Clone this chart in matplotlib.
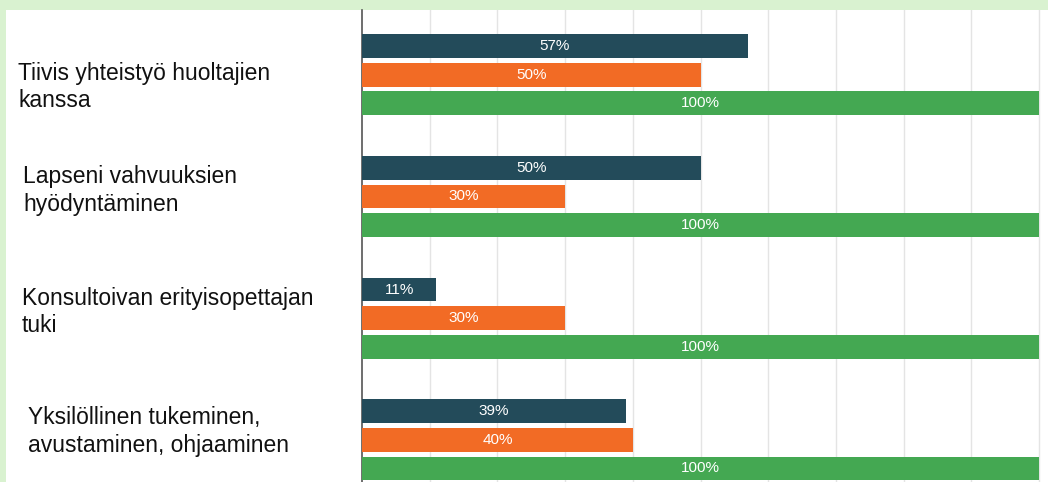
import matplotlib.pyplot as plt
import numpy as np
from matplotlib.patches import Rectangle

categories = [
    "Tiivis yhteistyö huoltajien\nkanssa",
    "Lapseni vahvuuksien\nhyödyntäminen",
    "Konsultoivan erityisopettajan\ntuki",
    "Yksilöllinen tukeminen,\navustaminen, ohjaaminen",
]
series_a = [57, 50, 11, 39]
series_b = [50, 30, 30, 40]
series_c = [100, 100, 100, 100]

colors = ["#234B5A", "#F26B25", "#44A852"]
label_dx = [18, 23, 22, 28]
label_dy = [0.10, -0.05, -0.05, -0.07]

W, H = 1048, 482
fig = plt.figure(figsize=(W / 100, H / 100), dpi=100, facecolor="#D9F2D0")
fig.patches.append(Rectangle((6 / W, 0), 1 - 6 / W, 1 - 10 / H, transform=fig.transFigure,
                             facecolor="white", edgecolor="none", zorder=-10))

ax = fig.add_axes([362 / W, 0, (1048 - 362) / W, 1 - 10 / H])
ax.patch.set_alpha(0)

y = np.arange(len(categories))
off = 0.235
h = 0.195
for vals, dy, c in zip([series_a, series_b, series_c], [-off, 0, off], colors):
    bars = ax.barh(y + dy, vals, height=h, color=c, zorder=3)
    for b, v in zip(bars, vals):
        ax.text(b.get_width() / 2, b.get_y() + b.get_height() / 2, f"{v}%",
                ha="center", va="center", color="white", fontsize=11,
                family="Liberation Sans", zorder=4)

ax.set_xlim(0, 100 * (1048 - 362) / 677)
ax.set_ylim(3.346, -0.531)
ax.set_xticks(np.arange(10, 101, 10))
ax.grid(axis="x", color="#E4E4E4", linewidth=1, zorder=0)
ax.tick_params(left=False, bottom=False, labelleft=False, labelbottom=False)
for s in ["top", "right", "bottom"]:
    ax.spines[s].set_visible(False)
ax.spines["left"].set_color("#555555")
ax.spines["left"].set_linewidth(1.2)

for i, (lab, dx, dy) in enumerate(zip(categories, label_dx, label_dy)):
    ax.text((dx - 362) / 677 * 100, i + dy, lab, ha="left", va="center",
            fontsize=16.5, family="Liberation Sans", color="#111111",
            linespacing=1.25, clip_on=False)

fig.savefig("out.png", dpi=100, facecolor=fig.get_facecolor())
